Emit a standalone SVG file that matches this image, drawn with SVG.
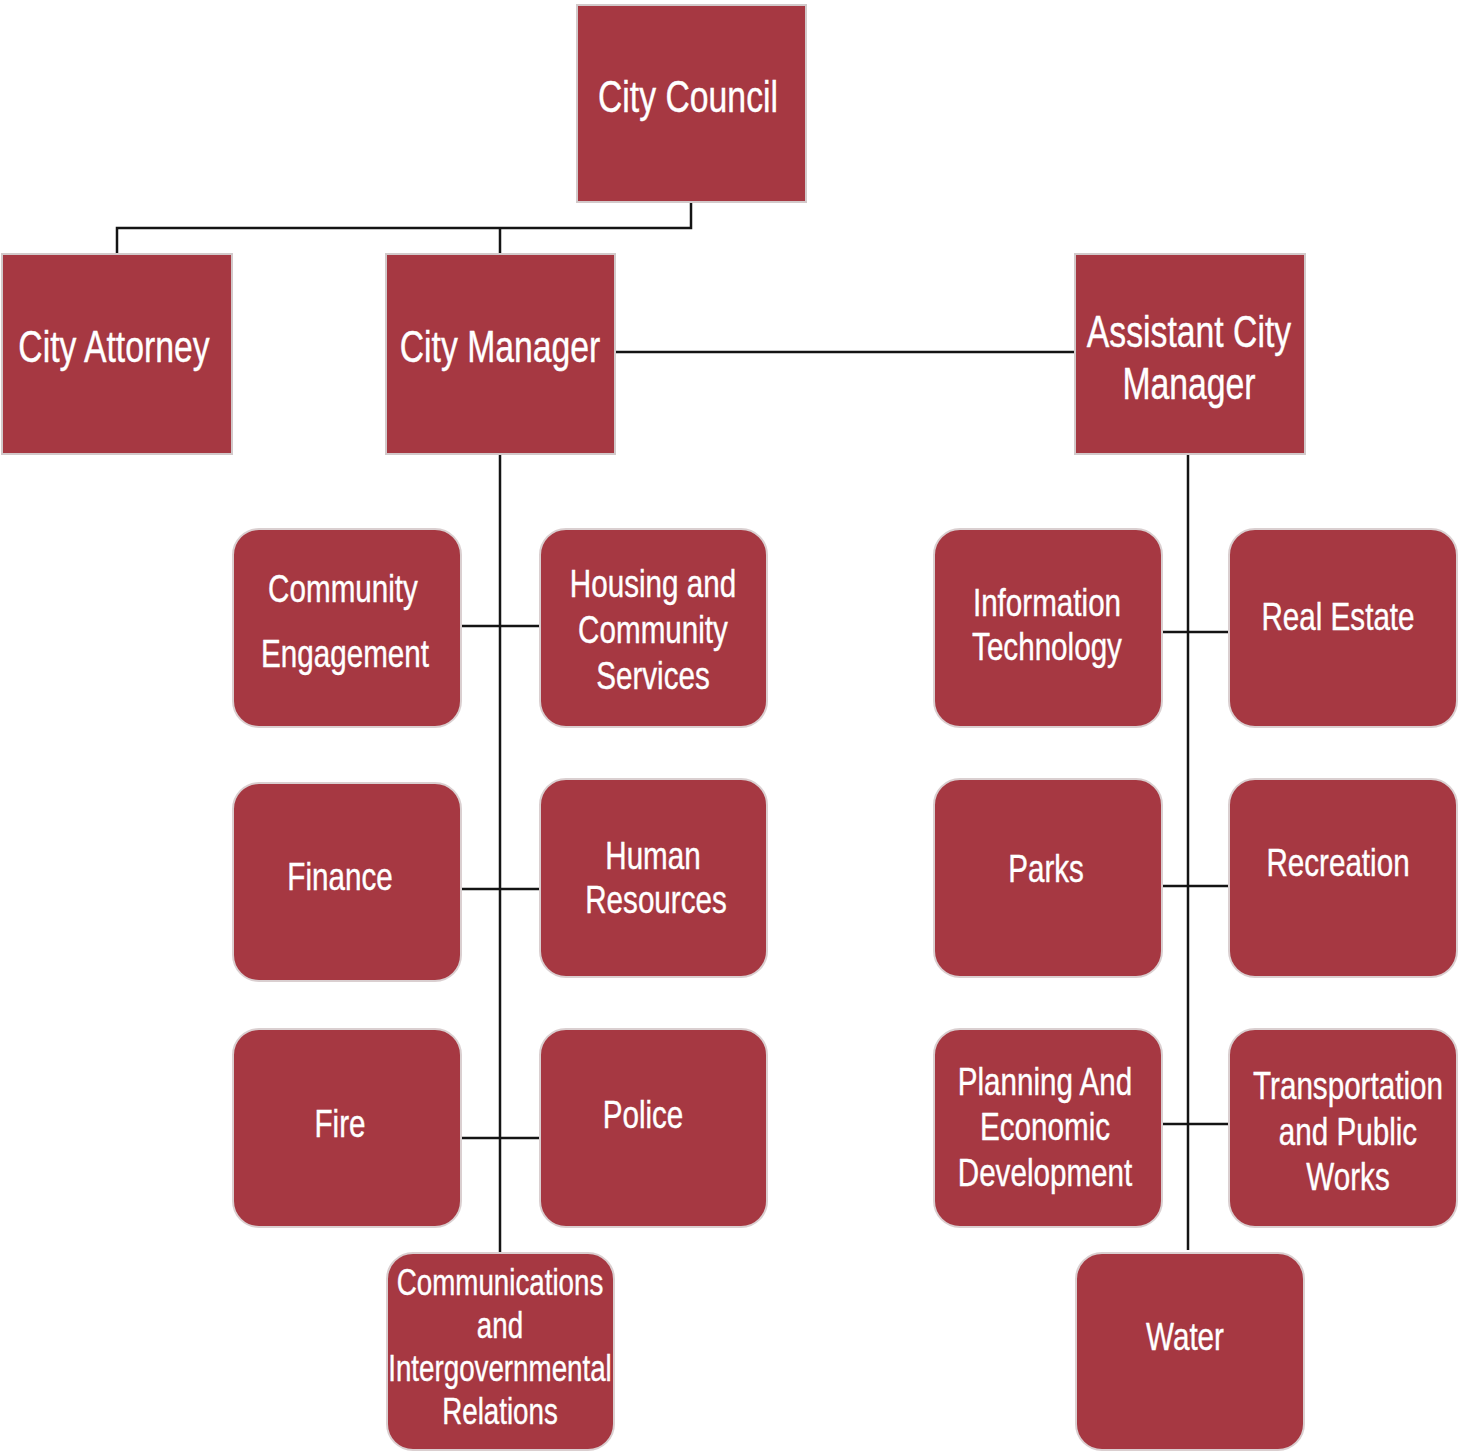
<svg xmlns="http://www.w3.org/2000/svg" width="1458" height="1452" viewBox="0 0 1458 1452">
  <style>
    .box { fill: #a63842; stroke: #d2c9ca; stroke-width: 2; }
    .dept { fill: #a63842; stroke: #dacfd0; stroke-width: 2; }
    .link { fill: none; stroke: #141414; stroke-width: 2.5; }
    .lbl { fill: #ffffff; stroke: #ffffff; stroke-width: 0.4; font-family: "Liberation Sans", Arial, sans-serif; text-anchor: middle; }
    .big { font-size: 45px; }
    .mid { font-size: 39.5px; }
    .sm { font-size: 37px; }
  </style>
  <rect width="1458" height="1452" fill="#ffffff"/>

  <!-- connectors -->
  <g id="connectors">
    <path class="link" d="M691,202 V228 H117 V254 M500,228 V254"/>
    <path class="link" d="M615,352 H1075"/>
    <path class="link" d="M500,454 V1253"/>
    <path class="link" d="M461,626 H545 M457,889 H540 M462,1138 H545"/>
    <path class="link" d="M1188,454 V1250"/>
    <path class="link" d="M1162,632 H1235 M1160,886 H1233 M1156,1124 H1229"/>
  </g>

  <!-- leadership -->
  <g id="city-council">
    <rect class="box" x="577" y="5" width="229" height="197"/>
    <text class="lbl big" transform="translate(688,112) scale(0.75,1)">City Council</text>
  </g>
  <g id="city-attorney">
    <rect class="box" x="2" y="254" width="230" height="200"/>
    <text class="lbl big" transform="translate(114,362) scale(0.75,1)">City Attorney</text>
  </g>
  <g id="city-manager">
    <rect class="box" x="386" y="254" width="229" height="200"/>
    <text class="lbl big" transform="translate(500,362) scale(0.75,1)">City Manager</text>
  </g>
  <g id="assistant-city-manager">
    <rect class="box" x="1075" y="254" width="230" height="200"/>
    <text class="lbl big" transform="translate(1189,347) scale(0.75,1)">Assistant City</text>
    <text class="lbl big" transform="translate(1189,399) scale(0.75,1)">Manager</text>
  </g>

  <!-- departments under the City Manager -->
  <g id="community-engagement">
    <rect class="dept" x="233" y="529" width="228" height="198" rx="26"/>
    <text class="lbl mid" transform="translate(343,602) scale(0.75,1)">Community</text>
    <text class="lbl mid" transform="translate(345,667) scale(0.75,1)">Engagement</text>
  </g>
  <g id="housing-community-services">
    <rect class="dept" x="540" y="529" width="227" height="198" rx="26"/>
    <text class="lbl mid" transform="translate(653,597) scale(0.75,1)">Housing and</text>
    <text class="lbl mid" transform="translate(653,643) scale(0.75,1)">Community</text>
    <text class="lbl mid" transform="translate(653,689) scale(0.75,1)">Services</text>
  </g>
  <g id="finance">
    <rect class="dept" x="233" y="783" width="228" height="198" rx="26"/>
    <text class="lbl mid" transform="translate(340,890) scale(0.75,1)">Finance</text>
  </g>
  <g id="human-resources">
    <rect class="dept" x="540" y="779" width="227" height="198" rx="26"/>
    <text class="lbl mid" transform="translate(653,869) scale(0.75,1)">Human</text>
    <text class="lbl mid" transform="translate(656,913) scale(0.75,1)">Resources</text>
  </g>
  <g id="fire">
    <rect class="dept" x="233" y="1029" width="228" height="198" rx="26"/>
    <text class="lbl mid" transform="translate(340,1137) scale(0.75,1)">Fire</text>
  </g>
  <g id="police">
    <rect class="dept" x="540" y="1029" width="227" height="198" rx="26"/>
    <text class="lbl mid" transform="translate(643,1128) scale(0.75,1)">Police</text>
  </g>
  <g id="communications-igr">
    <rect class="dept" x="387" y="1253" width="227" height="197" rx="26"/>
    <text class="lbl sm" transform="translate(500,1295) scale(0.75,1)">Communications</text>
    <text class="lbl sm" transform="translate(500,1338) scale(0.75,1)">and</text>
    <text class="lbl sm" transform="translate(500,1381) scale(0.75,1)">Intergovernmental</text>
    <text class="lbl sm" transform="translate(500,1424) scale(0.75,1)">Relations</text>
  </g>

  <!-- departments under the Assistant City Manager -->
  <g id="information-technology">
    <rect class="dept" x="934" y="529" width="228" height="198" rx="26"/>
    <text class="lbl mid" transform="translate(1047,616) scale(0.75,1)">Information</text>
    <text class="lbl mid" transform="translate(1047,660) scale(0.75,1)">Technology</text>
  </g>
  <g id="real-estate">
    <rect class="dept" x="1229" y="529" width="228" height="198" rx="26"/>
    <text class="lbl mid" transform="translate(1338,630) scale(0.75,1)">Real Estate</text>
  </g>
  <g id="parks">
    <rect class="dept" x="934" y="779" width="228" height="198" rx="26"/>
    <text class="lbl mid" transform="translate(1046,882) scale(0.75,1)">Parks</text>
  </g>
  <g id="recreation">
    <rect class="dept" x="1229" y="779" width="228" height="198" rx="26"/>
    <text class="lbl mid" transform="translate(1338,876) scale(0.75,1)">Recreation</text>
  </g>
  <g id="planning-economic-development">
    <rect class="dept" x="934" y="1029" width="228" height="198" rx="26"/>
    <text class="lbl mid" transform="translate(1045,1095) scale(0.75,1)">Planning And</text>
    <text class="lbl mid" transform="translate(1045,1140) scale(0.75,1)">Economic</text>
    <text class="lbl mid" transform="translate(1045,1186) scale(0.75,1)">Development</text>
  </g>
  <g id="transportation-public-works">
    <rect class="dept" x="1229" y="1029" width="228" height="198" rx="26"/>
    <text class="lbl mid" transform="translate(1348,1099) scale(0.75,1)">Transportation</text>
    <text class="lbl mid" transform="translate(1348,1145) scale(0.75,1)">and Public</text>
    <text class="lbl mid" transform="translate(1348,1190) scale(0.75,1)">Works</text>
  </g>
  <g id="water">
    <rect class="dept" x="1076" y="1253" width="228" height="197" rx="26"/>
    <text class="lbl mid" transform="translate(1185,1350) scale(0.75,1)">Water</text>
  </g>
</svg>
